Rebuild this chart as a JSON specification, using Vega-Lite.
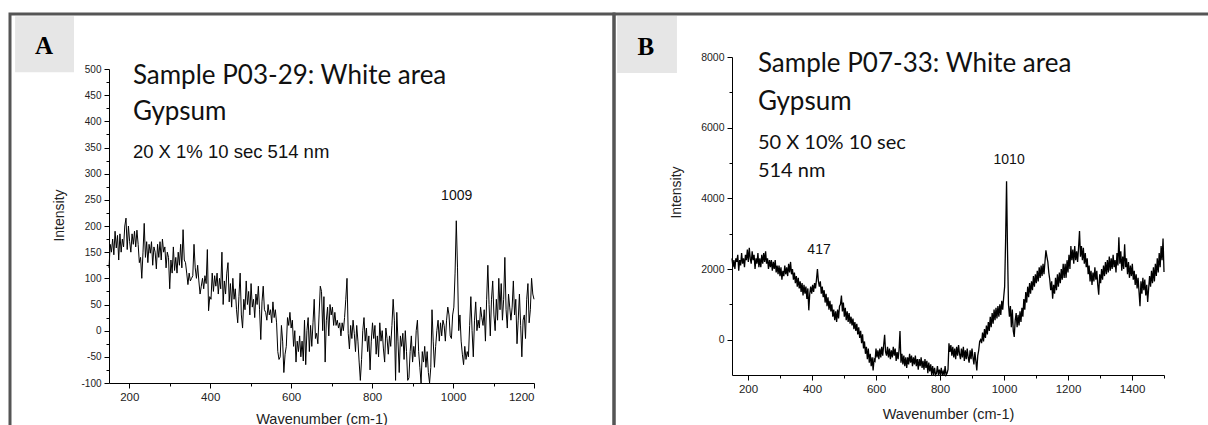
{
"$schema": "https://vega.github.io/schema/vega-lite/v6.json",
"padding": {"left": 8, "top": 12, "right": -4, "bottom": -4},
"spacing": 0,
"bounds": "flush",
"background": "white",
"datasets": {
"specA": [{"w":150,"v":120},{"w":153,"v":165},{"w":156,"v":150},{"w":159,"v":175},{"w":162,"v":145},{"w":165,"v":190},{"w":168,"v":158},{"w":171,"v":182},{"w":174,"v":135},{"w":177,"v":185},{"w":180,"v":150},{"w":183,"v":175},{"w":186,"v":160},{"w":189,"v":200},{"w":192,"v":215},{"w":195,"v":155},{"w":198,"v":200},{"w":201,"v":170},{"w":204,"v":150},{"w":207,"v":185},{"w":210,"v":165},{"w":213,"v":190},{"w":216,"v":160},{"w":219,"v":192},{"w":222,"v":165},{"w":225,"v":130},{"w":228,"v":140},{"w":231,"v":100},{"w":234,"v":150},{"w":237,"v":205},{"w":240,"v":140},{"w":243,"v":170},{"w":246,"v":130},{"w":249,"v":165},{"w":252,"v":148},{"w":255,"v":170},{"w":258,"v":125},{"w":261,"v":160},{"w":264,"v":150},{"w":267,"v":118},{"w":270,"v":165},{"w":273,"v":140},{"w":276,"v":170},{"w":279,"v":135},{"w":282,"v":175},{"w":285,"v":150},{"w":288,"v":160},{"w":291,"v":120},{"w":294,"v":150},{"w":297,"v":140},{"w":300,"v":80},{"w":303,"v":135},{"w":306,"v":110},{"w":309,"v":160},{"w":312,"v":115},{"w":315,"v":140},{"w":318,"v":110},{"w":321,"v":150},{"w":324,"v":125},{"w":327,"v":165},{"w":330,"v":120},{"w":333,"v":193},{"w":336,"v":135},{"w":339,"v":130},{"w":342,"v":110},{"w":345,"v":88},{"w":348,"v":110},{"w":351,"v":95},{"w":354,"v":100},{"w":357,"v":105},{"w":360,"v":165},{"w":363,"v":120},{"w":366,"v":100},{"w":369,"v":125},{"w":372,"v":95},{"w":375,"v":70},{"w":378,"v":85},{"w":381,"v":100},{"w":384,"v":80},{"w":387,"v":105},{"w":390,"v":90},{"w":393,"v":155},{"w":396,"v":38},{"w":399,"v":65},{"w":402,"v":60},{"w":405,"v":110},{"w":408,"v":75},{"w":411,"v":105},{"w":414,"v":85},{"w":417,"v":110},{"w":420,"v":70},{"w":423,"v":100},{"w":426,"v":80},{"w":429,"v":150},{"w":432,"v":50},{"w":435,"v":95},{"w":438,"v":70},{"w":441,"v":110},{"w":444,"v":130},{"w":447,"v":55},{"w":450,"v":90},{"w":453,"v":45},{"w":456,"v":100},{"w":459,"v":60},{"w":462,"v":80},{"w":465,"v":40},{"w":468,"v":15},{"w":471,"v":65},{"w":474,"v":110},{"w":477,"v":30},{"w":480,"v":5},{"w":483,"v":60},{"w":486,"v":40},{"w":489,"v":95},{"w":492,"v":50},{"w":495,"v":75},{"w":498,"v":30},{"w":501,"v":90},{"w":504,"v":45},{"w":507,"v":60},{"w":510,"v":25},{"w":513,"v":70},{"w":516,"v":50},{"w":519,"v":85},{"w":522,"v":40},{"w":525,"v":-17},{"w":528,"v":55},{"w":531,"v":85},{"w":534,"v":40},{"w":537,"v":35},{"w":540,"v":20},{"w":543,"v":50},{"w":546,"v":30},{"w":549,"v":40},{"w":552,"v":15},{"w":555,"v":55},{"w":558,"v":25},{"w":561,"v":40},{"w":564,"v":15},{"w":567,"v":-40},{"w":570,"v":-55},{"w":573,"v":-50},{"w":576,"v":10},{"w":579,"v":-20},{"w":582,"v":-80},{"w":585,"v":-45},{"w":588,"v":-30},{"w":591,"v":25},{"w":594,"v":10},{"w":597,"v":35},{"w":600,"v":5},{"w":603,"v":20},{"w":606,"v":-30},{"w":609,"v":0},{"w":612,"v":-60},{"w":615,"v":-20},{"w":618,"v":-40},{"w":621,"v":-10},{"w":624,"v":-50},{"w":627,"v":-20},{"w":630,"v":-58},{"w":633,"v":20},{"w":636,"v":-65},{"w":639,"v":0},{"w":642,"v":25},{"w":645,"v":-40},{"w":648,"v":10},{"w":651,"v":-30},{"w":654,"v":15},{"w":657,"v":60},{"w":660,"v":-15},{"w":663,"v":-5},{"w":666,"v":-25},{"w":669,"v":30},{"w":672,"v":85},{"w":675,"v":75},{"w":678,"v":0},{"w":681,"v":65},{"w":684,"v":-60},{"w":687,"v":20},{"w":690,"v":45},{"w":693,"v":-10},{"w":696,"v":50},{"w":699,"v":30},{"w":702,"v":45},{"w":705,"v":10},{"w":708,"v":35},{"w":711,"v":10},{"w":714,"v":20},{"w":717,"v":5},{"w":720,"v":15},{"w":723,"v":-10},{"w":726,"v":15},{"w":729,"v":0},{"w":732,"v":25},{"w":735,"v":60},{"w":738,"v":100},{"w":741,"v":-5},{"w":744,"v":-35},{"w":747,"v":10},{"w":750,"v":-15},{"w":753,"v":20},{"w":756,"v":-5},{"w":759,"v":-40},{"w":762,"v":10},{"w":765,"v":-20},{"w":768,"v":-60},{"w":771,"v":-95},{"w":774,"v":-55},{"w":777,"v":0},{"w":780,"v":25},{"w":783,"v":-20},{"w":786,"v":5},{"w":789,"v":-40},{"w":792,"v":-10},{"w":795,"v":-75},{"w":798,"v":-20},{"w":801,"v":15},{"w":804,"v":-15},{"w":807,"v":10},{"w":810,"v":-45},{"w":813,"v":-10},{"w":816,"v":-50},{"w":819,"v":15},{"w":822,"v":-20},{"w":825,"v":0},{"w":828,"v":-35},{"w":831,"v":-60},{"w":834,"v":5},{"w":837,"v":-15},{"w":840,"v":-45},{"w":843,"v":-10},{"w":846,"v":-30},{"w":849,"v":10},{"w":852,"v":60},{"w":855,"v":20},{"w":858,"v":-95},{"w":861,"v":35},{"w":864,"v":-20},{"w":867,"v":-80},{"w":870,"v":-10},{"w":873,"v":-30},{"w":876,"v":-5},{"w":879,"v":-55},{"w":882,"v":0},{"w":885,"v":-40},{"w":888,"v":-95},{"w":891,"v":-90},{"w":894,"v":-40},{"w":897,"v":-10},{"w":900,"v":-60},{"w":903,"v":-30},{"w":906,"v":-50},{"w":909,"v":0},{"w":912,"v":20},{"w":915,"v":-40},{"w":918,"v":-70},{"w":921,"v":-100},{"w":924,"v":-40},{"w":927,"v":-60},{"w":930,"v":-30},{"w":933,"v":-70},{"w":936,"v":-40},{"w":939,"v":-80},{"w":942,"v":-100},{"w":945,"v":-70},{"w":948,"v":40},{"w":951,"v":-20},{"w":954,"v":-70},{"w":957,"v":-30},{"w":960,"v":0},{"w":963,"v":20},{"w":966,"v":-20},{"w":969,"v":15},{"w":972,"v":-10},{"w":975,"v":20},{"w":978,"v":10},{"w":981,"v":-20},{"w":984,"v":20},{"w":987,"v":45},{"w":990,"v":30},{"w":993,"v":-10},{"w":996,"v":-15},{"w":999,"v":30},{"w":1002,"v":45},{"w":1005,"v":110},{"w":1008,"v":210},{"w":1011,"v":120},{"w":1014,"v":0},{"w":1017,"v":30},{"w":1020,"v":-20},{"w":1023,"v":-45},{"w":1026,"v":-65},{"w":1029,"v":-30},{"w":1032,"v":-55},{"w":1035,"v":-40},{"w":1038,"v":-50},{"w":1041,"v":10},{"w":1044,"v":65},{"w":1047,"v":0},{"w":1050,"v":-50},{"w":1053,"v":20},{"w":1056,"v":55},{"w":1059,"v":0},{"w":1062,"v":20},{"w":1065,"v":5},{"w":1068,"v":45},{"w":1071,"v":25},{"w":1074,"v":10},{"w":1077,"v":40},{"w":1080,"v":-20},{"w":1083,"v":60},{"w":1086,"v":125},{"w":1089,"v":50},{"w":1092,"v":-10},{"w":1095,"v":60},{"w":1098,"v":95},{"w":1101,"v":30},{"w":1104,"v":0},{"w":1107,"v":60},{"w":1110,"v":20},{"w":1113,"v":100},{"w":1116,"v":40},{"w":1119,"v":90},{"w":1122,"v":20},{"w":1125,"v":60},{"w":1128,"v":140},{"w":1131,"v":40},{"w":1134,"v":5},{"w":1137,"v":70},{"w":1140,"v":45},{"w":1143,"v":20},{"w":1146,"v":45},{"w":1149,"v":95},{"w":1152,"v":30},{"w":1155,"v":60},{"w":1158,"v":-25},{"w":1161,"v":20},{"w":1164,"v":70},{"w":1167,"v":10},{"w":1170,"v":-50},{"w":1173,"v":20},{"w":1176,"v":30},{"w":1179,"v":-15},{"w":1182,"v":60},{"w":1185,"v":90},{"w":1188,"v":15},{"w":1191,"v":40},{"w":1194,"v":100},{"w":1197,"v":70},{"w":1200,"v":60}],
"specB": [{"w":150,"v":2300},{"w":153,"v":2050},{"w":156,"v":2250},{"w":159,"v":2000},{"w":162,"v":2300},{"w":165,"v":2200},{"w":168,"v":2400},{"w":171,"v":1950},{"w":174,"v":2250},{"w":177,"v":2100},{"w":180,"v":2450},{"w":183,"v":2150},{"w":186,"v":2300},{"w":189,"v":2050},{"w":192,"v":2400},{"w":195,"v":2250},{"w":198,"v":2550},{"w":201,"v":2200},{"w":204,"v":2600},{"w":207,"v":2300},{"w":210,"v":2150},{"w":213,"v":2500},{"w":216,"v":2250},{"w":219,"v":2400},{"w":222,"v":2000},{"w":225,"v":2300},{"w":228,"v":2150},{"w":231,"v":2450},{"w":234,"v":2050},{"w":237,"v":2300},{"w":240,"v":2050},{"w":243,"v":2400},{"w":246,"v":2150},{"w":249,"v":2450},{"w":252,"v":2200},{"w":255,"v":2500},{"w":258,"v":2150},{"w":261,"v":2300},{"w":264,"v":2000},{"w":267,"v":2250},{"w":270,"v":2050},{"w":273,"v":2250},{"w":276,"v":1950},{"w":279,"v":2200},{"w":282,"v":2000},{"w":285,"v":2250},{"w":288,"v":1900},{"w":291,"v":2100},{"w":294,"v":1850},{"w":297,"v":2100},{"w":300,"v":1800},{"w":303,"v":2050},{"w":306,"v":1700},{"w":309,"v":1950},{"w":312,"v":1800},{"w":315,"v":2100},{"w":318,"v":1850},{"w":321,"v":2050},{"w":324,"v":1800},{"w":327,"v":2150},{"w":330,"v":1900},{"w":333,"v":2200},{"w":336,"v":1850},{"w":339,"v":2000},{"w":342,"v":1700},{"w":345,"v":1900},{"w":348,"v":1600},{"w":351,"v":1800},{"w":354,"v":1500},{"w":357,"v":1750},{"w":360,"v":1450},{"w":363,"v":1650},{"w":366,"v":1350},{"w":369,"v":1600},{"w":372,"v":1250},{"w":375,"v":1550},{"w":378,"v":1300},{"w":381,"v":1500},{"w":384,"v":1150},{"w":387,"v":1450},{"w":390,"v":830},{"w":393,"v":1300},{"w":396,"v":1500},{"w":399,"v":1300},{"w":402,"v":1550},{"w":405,"v":1350},{"w":408,"v":1600},{"w":411,"v":1450},{"w":414,"v":1700},{"w":417,"v":2000},{"w":420,"v":1650},{"w":423,"v":1500},{"w":426,"v":1650},{"w":429,"v":1300},{"w":432,"v":1500},{"w":435,"v":1200},{"w":438,"v":1400},{"w":441,"v":1050},{"w":444,"v":1300},{"w":447,"v":950},{"w":450,"v":1200},{"w":453,"v":850},{"w":456,"v":1100},{"w":459,"v":800},{"w":462,"v":1000},{"w":465,"v":650},{"w":468,"v":850},{"w":471,"v":550},{"w":474,"v":800},{"w":477,"v":500},{"w":480,"v":850},{"w":483,"v":600},{"w":486,"v":950},{"w":489,"v":1000},{"w":492,"v":1250},{"w":495,"v":800},{"w":498,"v":1050},{"w":501,"v":650},{"w":504,"v":900},{"w":507,"v":550},{"w":510,"v":800},{"w":513,"v":500},{"w":516,"v":750},{"w":519,"v":450},{"w":522,"v":650},{"w":525,"v":400},{"w":528,"v":600},{"w":531,"v":300},{"w":534,"v":500},{"w":537,"v":250},{"w":540,"v":450},{"w":543,"v":150},{"w":546,"v":350},{"w":549,"v":50},{"w":552,"v":250},{"w":555,"v":-100},{"w":558,"v":150},{"w":561,"v":-250},{"w":564,"v":-50},{"w":567,"v":-400},{"w":570,"v":-200},{"w":573,"v":-550},{"w":576,"v":-250},{"w":579,"v":-650},{"w":582,"v":-400},{"w":585,"v":-750},{"w":588,"v":-500},{"w":591,"v":-870},{"w":594,"v":-550},{"w":597,"v":-600},{"w":600,"v":-250},{"w":603,"v":-500},{"w":606,"v":-300},{"w":609,"v":-550},{"w":612,"v":-250},{"w":615,"v":-500},{"w":618,"v":-200},{"w":621,"v":-450},{"w":624,"v":-150},{"w":627,"v":140},{"w":630,"v":-350},{"w":633,"v":-450},{"w":636,"v":-200},{"w":639,"v":-500},{"w":642,"v":-250},{"w":645,"v":-550},{"w":648,"v":-300},{"w":651,"v":-500},{"w":654,"v":-200},{"w":657,"v":-450},{"w":660,"v":-250},{"w":663,"v":-600},{"w":666,"v":-350},{"w":669,"v":-550},{"w":672,"v":-300},{"w":675,"v":245},{"w":678,"v":-650},{"w":681,"v":-400},{"w":684,"v":-700},{"w":687,"v":-450},{"w":690,"v":-750},{"w":693,"v":-500},{"w":696,"v":-800},{"w":699,"v":-500},{"w":702,"v":-700},{"w":705,"v":-400},{"w":708,"v":-650},{"w":711,"v":-450},{"w":714,"v":-750},{"w":717,"v":-500},{"w":720,"v":-700},{"w":723,"v":-450},{"w":726,"v":-750},{"w":729,"v":-550},{"w":732,"v":-850},{"w":735,"v":-550},{"w":738,"v":-750},{"w":741,"v":-500},{"w":744,"v":-800},{"w":747,"v":-600},{"w":750,"v":-850},{"w":753,"v":-550},{"w":756,"v":-800},{"w":759,"v":-600},{"w":762,"v":-950},{"w":765,"v":-650},{"w":768,"v":-900},{"w":771,"v":-700},{"w":774,"v":-1000},{"w":777,"v":-750},{"w":780,"v":-1000},{"w":783,"v":-800},{"w":786,"v":-1000},{"w":789,"v":-950},{"w":792,"v":-750},{"w":795,"v":-1000},{"w":798,"v":-850},{"w":801,"v":-1000},{"w":804,"v":-800},{"w":807,"v":-1000},{"w":810,"v":-900},{"w":813,"v":-1000},{"w":816,"v":-750},{"w":819,"v":-1000},{"w":822,"v":-950},{"w":825,"v":-850},{"w":828,"v":-100},{"w":831,"v":-350},{"w":834,"v":-150},{"w":837,"v":-450},{"w":840,"v":-200},{"w":843,"v":-500},{"w":846,"v":-250},{"w":849,"v":-550},{"w":852,"v":-200},{"w":855,"v":-450},{"w":858,"v":-150},{"w":861,"v":-400},{"w":864,"v":-550},{"w":867,"v":-250},{"w":870,"v":-500},{"w":873,"v":-200},{"w":876,"v":-600},{"w":879,"v":-300},{"w":882,"v":-550},{"w":885,"v":-250},{"w":888,"v":-500},{"w":891,"v":-650},{"w":894,"v":-300},{"w":897,"v":-550},{"w":900,"v":-250},{"w":903,"v":-500},{"w":906,"v":-700},{"w":909,"v":-350},{"w":912,"v":-600},{"w":915,"v":-870},{"w":918,"v":-450},{"w":921,"v":-300},{"w":924,"v":-50},{"w":927,"v":0},{"w":930,"v":-100},{"w":933,"v":200},{"w":936,"v":-50},{"w":939,"v":300},{"w":942,"v":50},{"w":945,"v":400},{"w":948,"v":150},{"w":951,"v":500},{"w":954,"v":250},{"w":957,"v":650},{"w":960,"v":350},{"w":963,"v":750},{"w":966,"v":450},{"w":969,"v":850},{"w":972,"v":550},{"w":975,"v":900},{"w":978,"v":600},{"w":981,"v":950},{"w":984,"v":650},{"w":987,"v":1000},{"w":990,"v":700},{"w":993,"v":1100},{"w":996,"v":850},{"w":999,"v":1200},{"w":1002,"v":1500},{"w":1005,"v":2800},{"w":1008,"v":4480},{"w":1011,"v":2500},{"w":1014,"v":1000},{"w":1017,"v":650},{"w":1020,"v":950},{"w":1023,"v":350},{"w":1026,"v":850},{"w":1029,"v":250},{"w":1032,"v":75},{"w":1035,"v":550},{"w":1038,"v":750},{"w":1041,"v":350},{"w":1044,"v":700},{"w":1047,"v":400},{"w":1050,"v":800},{"w":1053,"v":500},{"w":1056,"v":900},{"w":1059,"v":650},{"w":1062,"v":1150},{"w":1065,"v":850},{"w":1068,"v":1350},{"w":1071,"v":1050},{"w":1074,"v":1500},{"w":1077,"v":1200},{"w":1080,"v":1600},{"w":1083,"v":1300},{"w":1086,"v":1650},{"w":1089,"v":1400},{"w":1092,"v":1800},{"w":1095,"v":1500},{"w":1098,"v":1850},{"w":1101,"v":1600},{"w":1104,"v":1950},{"w":1107,"v":1650},{"w":1110,"v":2050},{"w":1113,"v":1750},{"w":1116,"v":2100},{"w":1119,"v":1800},{"w":1122,"v":2150},{"w":1125,"v":1850},{"w":1128,"v":2200},{"w":1131,"v":2530},{"w":1134,"v":2350},{"w":1137,"v":2200},{"w":1140,"v":1900},{"w":1143,"v":1700},{"w":1146,"v":1400},{"w":1149,"v":1650},{"w":1152,"v":1160},{"w":1155,"v":1550},{"w":1158,"v":1300},{"w":1161,"v":1750},{"w":1164,"v":1400},{"w":1167,"v":1850},{"w":1170,"v":1500},{"w":1173,"v":1900},{"w":1176,"v":1600},{"w":1179,"v":2000},{"w":1182,"v":1700},{"w":1185,"v":2150},{"w":1188,"v":1750},{"w":1191,"v":2150},{"w":1194,"v":1750},{"w":1197,"v":2250},{"w":1200,"v":1900},{"w":1203,"v":2400},{"w":1206,"v":2000},{"w":1209,"v":2650},{"w":1212,"v":2250},{"w":1215,"v":2550},{"w":1218,"v":2150},{"w":1221,"v":2650},{"w":1224,"v":2250},{"w":1227,"v":2500},{"w":1230,"v":2200},{"w":1233,"v":2600},{"w":1236,"v":3075},{"w":1239,"v":2350},{"w":1242,"v":2650},{"w":1245,"v":2250},{"w":1248,"v":2600},{"w":1251,"v":2150},{"w":1254,"v":2450},{"w":1257,"v":2050},{"w":1260,"v":2300},{"w":1263,"v":1850},{"w":1266,"v":2100},{"w":1269,"v":1650},{"w":1272,"v":1950},{"w":1275,"v":1550},{"w":1278,"v":1900},{"w":1281,"v":1650},{"w":1284,"v":2050},{"w":1287,"v":1700},{"w":1290,"v":1950},{"w":1293,"v":1550},{"w":1296,"v":1270},{"w":1299,"v":1850},{"w":1302,"v":1600},{"w":1305,"v":2000},{"w":1308,"v":1700},{"w":1311,"v":2100},{"w":1314,"v":1800},{"w":1317,"v":2200},{"w":1320,"v":1850},{"w":1323,"v":2250},{"w":1326,"v":1900},{"w":1329,"v":2350},{"w":1332,"v":1950},{"w":1335,"v":2300},{"w":1338,"v":2000},{"w":1341,"v":2400},{"w":1344,"v":2050},{"w":1347,"v":2250},{"w":1350,"v":1900},{"w":1353,"v":2450},{"w":1356,"v":2100},{"w":1359,"v":2900},{"w":1362,"v":2150},{"w":1365,"v":2500},{"w":1368,"v":1950},{"w":1371,"v":2350},{"w":1374,"v":2000},{"w":1377,"v":2700},{"w":1380,"v":2050},{"w":1383,"v":2300},{"w":1386,"v":1850},{"w":1389,"v":2200},{"w":1392,"v":1750},{"w":1395,"v":2100},{"w":1398,"v":1800},{"w":1401,"v":2150},{"w":1404,"v":1700},{"w":1407,"v":1950},{"w":1410,"v":1550},{"w":1413,"v":1850},{"w":1416,"v":1450},{"w":1419,"v":1750},{"w":1422,"v":1350},{"w":1425,"v":950},{"w":1428,"v":1650},{"w":1431,"v":1300},{"w":1434,"v":1750},{"w":1437,"v":1400},{"w":1440,"v":1700},{"w":1443,"v":1250},{"w":1446,"v":1550},{"w":1449,"v":1070},{"w":1452,"v":1450},{"w":1455,"v":1800},{"w":1458,"v":1500},{"w":1461,"v":1950},{"w":1464,"v":1600},{"w":1467,"v":2050},{"w":1470,"v":1650},{"w":1473,"v":2150},{"w":1476,"v":1800},{"w":1479,"v":2300},{"w":1482,"v":1900},{"w":1485,"v":2450},{"w":1488,"v":2050},{"w":1491,"v":2650},{"w":1494,"v":2250},{"w":1497,"v":2860},{"w":1500,"v":1915}],
"boxA": [{"x1": -82, "x2": 63.6, "y1": 601, "y2": 494, "t": "A", "lw": -10.5, "lv": 529}],
"boxB": [{"x1": -209, "x2": -22, "y1": 9160, "y2": 7547, "t": "B", "lw": -119, "lv": 8056}],
"textA": [
 {"k": "title", "w": 209, "v": 471, "t": "Sample P03-29: White area"},
 {"k": "title", "w": 209, "v": 403, "t": "Gypsum"},
 {"k": "sub", "w": 209, "v": 330, "t": "20 X 1% 10 sec 514 nm"},
 {"k": "peak", "w": 1009, "v": 250, "t": "1009"}
],
"textB": [
 {"k": "title", "w": 231, "v": 7575, "t": "Sample P07-33: White area"},
 {"k": "title", "w": 231, "v": 6500, "t": "Gypsum"},
 {"k": "sub", "w": 231, "v": 5396, "t": "50 X 10% 10 sec"},
 {"k": "sub", "w": 231, "v": 4603, "t": "514 nm"},
 {"k": "peak", "w": 1016, "v": 4971, "t": "1010"},
 {"k": "peak", "w": 422, "v": 2424, "t": "417"}
]
},
"hconcat": [
{
 "width": 604, "height": 417,
 "layer": [
  {"data": {"name": "boxA"}, "mark": {"type": "rect", "fill": "#e6e6e6"},
   "encoding": {
    "x": {"field": "x1", "type": "quantitative", "scale": {"domain": [150, 1200], "range": [99, 524], "nice": false, "zero": false},
      "axis": {"orient": "bottom", "offset": -48, "values": [300, 500, 700, 900, 1100], "labels": false, "domain": false, "tickSize": 3, "title": null}},
    "x2": {"field": "x2"},
    "y": {"field": "y1", "type": "quantitative", "scale": {"domain": [-100, 500], "range": [369, 55], "nice": false, "zero": false},
      "axis": {"orient": "left", "offset": -99, "values": [-75, -25, 25, 75, 125, 175, 225, 275, 325, 375, 425, 475], "labels": false, "domain": false, "tickSize": 3, "title": null}},
    "y2": {"field": "y2"}}},
  {"data": {"name": "boxA"}, "mark": {"type": "text", "font": "Liberation Serif", "fontWeight": "bold", "fontSize": 25, "align": "center", "baseline": "alphabetic", "color": "#000"},
   "encoding": {
    "x": {"field": "lw", "type": "quantitative", "scale": {"domain": [150, 1200], "range": [99, 524], "nice": false, "zero": false}, "axis": null},
    "y": {"field": "lv", "type": "quantitative", "scale": {"domain": [-100, 500], "range": [369, 55], "nice": false, "zero": false}, "axis": null},
    "text": {"field": "t"}}},
  {"data": {"name": "specA"}, "mark": {"type": "line", "color": "#000", "strokeWidth": 1},
   "encoding": {
    "x": {"field": "w", "type": "quantitative", "scale": {"domain": [150, 1200], "range": [99, 524], "nice": false, "zero": false},
      "axis": {"orient": "bottom", "offset": -48, "values": [200, 400, 600, 800, 1000, 1200], "labelExpr": "'' + datum.value", "tickSize": 5, "labelFontSize": 11.5, "labelPadding": 3, "title": "Wavenumber (cm-1)", "titleFontSize": 14.5, "titleY": 36, "titleBaseline": "middle"}},
    "y": {"field": "v", "type": "quantitative", "scale": {"domain": [-100, 500], "range": [369, 55], "nice": false, "zero": false},
      "axis": {"orient": "left", "offset": -99, "values": [-100, -50, 0, 50, 100, 150, 200, 250, 300, 350, 400, 450, 500], "labelExpr": "'' + datum.value", "tickSize": 5, "labelFontSize": 10, "labelPadding": 3, "title": "Intensity", "titleFontSize": 14, "titleX": -50, "titleY": 201, "titleBaseline": "middle"}}}},
  {"data": {"name": "textA"}, "transform": [{"filter": "datum.k === 'title'"}],
   "mark": {"type": "text", "font": "Lato", "fontSize": 26, "align": "left", "baseline": "alphabetic", "color": "#111"},
   "encoding": {
    "x": {"field": "w", "type": "quantitative", "scale": {"domain": [150, 1200], "range": [99, 524], "nice": false, "zero": false}, "axis": null},
    "y": {"field": "v", "type": "quantitative", "scale": {"domain": [-100, 500], "range": [369, 55], "nice": false, "zero": false}, "axis": null},
    "text": {"field": "t"}}},
  {"data": {"name": "textA"}, "transform": [{"filter": "datum.k === 'sub'"}],
   "mark": {"type": "text", "font": "Liberation Sans", "fontSize": 18.5, "align": "left", "baseline": "alphabetic", "color": "#111"},
   "encoding": {
    "x": {"field": "w", "type": "quantitative", "scale": {"domain": [150, 1200], "range": [99, 524], "nice": false, "zero": false}, "axis": null},
    "y": {"field": "v", "type": "quantitative", "scale": {"domain": [-100, 500], "range": [369, 55], "nice": false, "zero": false}, "axis": null},
    "text": {"field": "t"}}},
  {"data": {"name": "textA"}, "transform": [{"filter": "datum.k === 'peak'"}],
   "mark": {"type": "text", "font": "Liberation Sans", "fontSize": 14, "align": "center", "baseline": "alphabetic", "color": "#111"},
   "encoding": {
    "x": {"field": "w", "type": "quantitative", "scale": {"domain": [150, 1200], "range": [99, 524], "nice": false, "zero": false}, "axis": null},
    "y": {"field": "v", "type": "quantitative", "scale": {"domain": [-100, 500], "range": [369, 55], "nice": false, "zero": false}, "axis": null},
    "text": {"field": "t"}}}
 ],
 "resolve": {"axis": {"x": "independent", "y": "independent"}}
},
{
 "width": 600, "height": 417,
 "layer": [
  {"data": {"name": "boxB"}, "mark": {"type": "rect", "fill": "#e6e6e6"},
   "encoding": {
    "x": {"field": "x1", "type": "quantitative", "scale": {"domain": [150, 1500], "range": [118, 550], "nice": false, "zero": false},
      "axis": {"orient": "bottom", "offset": -56, "values": [300, 500, 700, 900, 1100, 1300, 1500], "labels": false, "domain": false, "tickSize": 3, "title": null}},
    "x2": {"field": "x2"},
    "y": {"field": "y1", "type": "quantitative", "scale": {"domain": [-1000, 8000], "range": [361, 43], "nice": false, "zero": false},
      "axis": {"orient": "left", "offset": -118, "values": [1000, 3000, 5000, 7000], "labels": false, "domain": false, "tickSize": 3, "title": null}},
    "y2": {"field": "y2"}}},
  {"data": {"name": "boxB"}, "mark": {"type": "text", "font": "Liberation Serif", "fontWeight": "bold", "fontSize": 25, "align": "center", "baseline": "alphabetic", "color": "#000"},
   "encoding": {
    "x": {"field": "lw", "type": "quantitative", "scale": {"domain": [150, 1500], "range": [118, 550], "nice": false, "zero": false}, "axis": null},
    "y": {"field": "lv", "type": "quantitative", "scale": {"domain": [-1000, 8000], "range": [361, 43], "nice": false, "zero": false}, "axis": null},
    "text": {"field": "t"}}},
  {"data": {"name": "specB"}, "mark": {"type": "line", "color": "#000", "strokeWidth": 1.3},
   "encoding": {
    "x": {"field": "w", "type": "quantitative", "scale": {"domain": [150, 1500], "range": [118, 550], "nice": false, "zero": false},
      "axis": {"orient": "bottom", "offset": -56, "values": [200, 400, 600, 800, 1000, 1200, 1400], "labelExpr": "'' + datum.value", "tickSize": 5, "labelFontSize": 11.5, "labelPadding": 3, "title": "Wavenumber (cm-1)", "titleFontSize": 14.5, "titleY": 39, "titleBaseline": "middle"}},
    "y": {"field": "v", "type": "quantitative", "scale": {"domain": [-1000, 8000], "range": [361, 43], "nice": false, "zero": false},
      "axis": {"orient": "left", "offset": -118, "values": [0, 2000, 4000, 6000, 8000], "labelExpr": "'' + datum.value", "tickSize": 5, "labelFontSize": 10.5, "labelPadding": 3, "title": "Intensity", "titleFontSize": 14, "titleX": -56, "titleY": 178, "titleBaseline": "middle"}}}},
  {"data": {"name": "textB"}, "transform": [{"filter": "datum.k === 'title'"}],
   "mark": {"type": "text", "font": "Lato", "fontSize": 26, "align": "left", "baseline": "alphabetic", "color": "#111"},
   "encoding": {
    "x": {"field": "w", "type": "quantitative", "scale": {"domain": [150, 1500], "range": [118, 550], "nice": false, "zero": false}, "axis": null},
    "y": {"field": "v", "type": "quantitative", "scale": {"domain": [-1000, 8000], "range": [361, 43], "nice": false, "zero": false}, "axis": null},
    "text": {"field": "t"}}},
  {"data": {"name": "textB"}, "transform": [{"filter": "datum.k === 'sub'"}],
   "mark": {"type": "text", "font": "Lato", "fontSize": 20, "align": "left", "baseline": "alphabetic", "color": "#111"},
   "encoding": {
    "x": {"field": "w", "type": "quantitative", "scale": {"domain": [150, 1500], "range": [118, 550], "nice": false, "zero": false}, "axis": null},
    "y": {"field": "v", "type": "quantitative", "scale": {"domain": [-1000, 8000], "range": [361, 43], "nice": false, "zero": false}, "axis": null},
    "text": {"field": "t"}}},
  {"data": {"name": "textB"}, "transform": [{"filter": "datum.k === 'peak'"}],
   "mark": {"type": "text", "font": "Liberation Sans", "fontSize": 14, "align": "center", "baseline": "alphabetic", "color": "#111"},
   "encoding": {
    "x": {"field": "w", "type": "quantitative", "scale": {"domain": [150, 1500], "range": [118, 550], "nice": false, "zero": false}, "axis": null},
    "y": {"field": "v", "type": "quantitative", "scale": {"domain": [-1000, 8000], "range": [361, 43], "nice": false, "zero": false}, "axis": null},
    "text": {"field": "t"}}}
 ],
 "resolve": {"axis": {"x": "independent", "y": "independent"}}
}
],
"config": {
 "view": {"stroke": "#555", "strokeWidth": 3},
 "axis": {"grid": false, "domainColor": "#000", "tickColor": "#000", "labelColor": "#222", "labelFont": "Liberation Sans", "titleFont": "Liberation Sans", "titleFontWeight": "normal", "titleColor": "#222", "domainWidth": 1, "tickWidth": 1}
}
}
